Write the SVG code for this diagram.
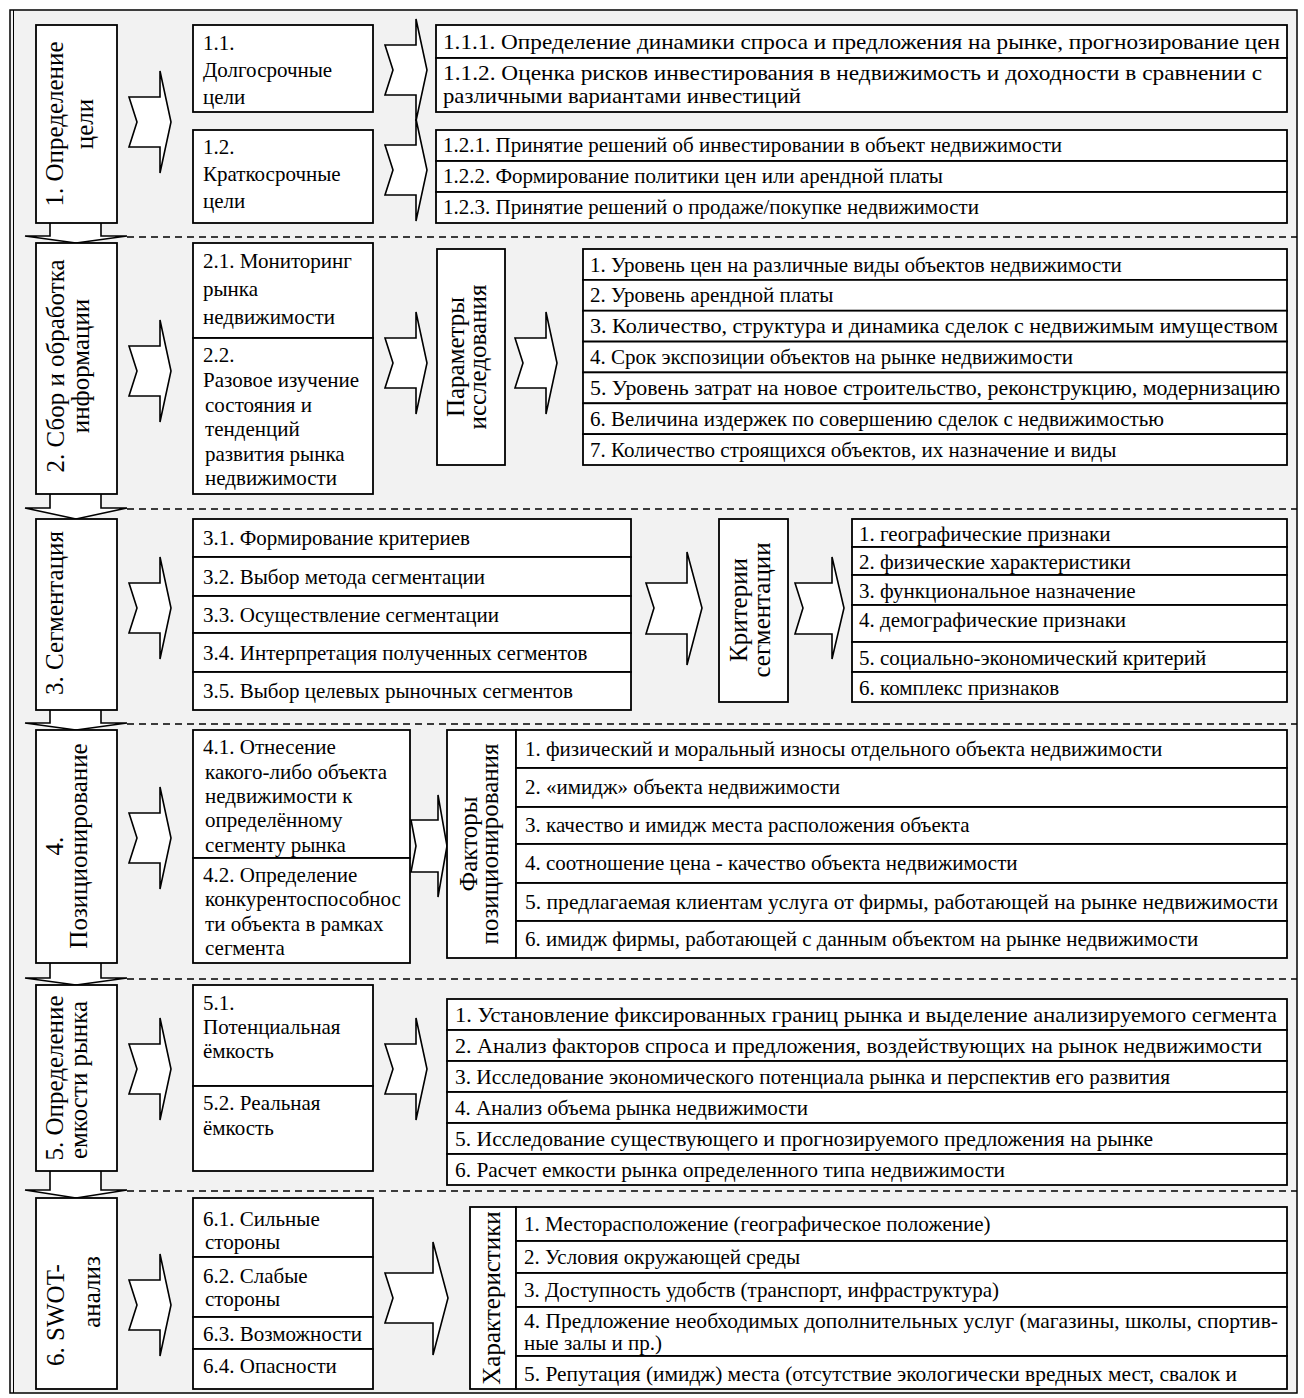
<svg xmlns="http://www.w3.org/2000/svg" width="1304" height="1398" viewBox="0 0 1304 1398">
<style>
.frame{fill:#f2f2f2;stroke:#000;stroke-width:1.5}
.box{fill:#fff;stroke:#000;stroke-width:1.8}
.arr{fill:#fff;stroke:#000;stroke-width:1.6;stroke-linejoin:miter}
.sep{fill:none;stroke:#000;stroke-width:1.5;stroke-dasharray:7 5}
text{font-family:"Liberation Serif","Times New Roman",serif;font-size:21px;fill:#000}
.v{font-size:25px;text-anchor:middle}
</style>
<rect x="0" y="0" width="1304" height="1398" fill="#fff"/>
<rect class="frame" x="10" y="10" width="1287" height="1383"/>
<line x1="13.5" y1="10" x2="13.5" y2="1393" stroke="#000" stroke-width="1"/>

<g id="separators">
<line class="sep" x1="127" y1="237" x2="1297" y2="237"/>
<line class="sep" x1="127" y1="509" x2="1297" y2="509"/>
<line class="sep" x1="127" y1="724" x2="1297" y2="724"/>
<line class="sep" x1="127" y1="979" x2="1297" y2="979"/>
<line class="sep" x1="127" y1="1191" x2="1297" y2="1191"/>
</g>

<g id="connectors">
<path class="arr" d="M50,223 V236 H25 L76,243 L127,236 H101 V223"/>
<path class="arr" d="M50,494 V508 H25 L76,519 L127,508 H101 V494"/>
<path class="arr" d="M50,710 V723 H25 L76,730 L127,723 H101 V710"/>
<path class="arr" d="M50,963 V978 H25 L76,985 L127,978 H101 V963"/>
<path class="arr" d="M50,1171 V1190 H25 L76,1198 L127,1190 H101 V1171"/>
<path class="arr" d="M129,97 H160 V71 L171,122 L160,173 V147 H129 L137,122 Z"/>
<path class="arr" d="M385,45 H416 V19 L427,70 L416,121 V95 H385 L393,70 Z"/>
<path class="arr" d="M385,145 H416 V119 L427,170 L416,221 V195 H385 L393,170 Z"/>
<path class="arr" d="M129,346 H160 V320 L171,371 L160,422 V396 H129 L137,371 Z"/>
<path class="arr" d="M385,338 H416 V312 L427,363 L416,414 V388 H385 L393,363 Z"/>
<path class="arr" d="M515,338 H546 V312 L557,363 L546,414 V388 H515 L523,363 Z"/>
<path class="arr" d="M129,583 H160 V557 L171,608 L160,659 V633 H129 L137,608 Z"/>
<path class="arr" d="M646,583 H687 V552 L702,608 L687,665 V634 H646 L654,608 Z"/>
<path class="arr" d="M795,583 H832 V557 L844,608 L832,659 V634 H795 L803,608 Z"/>
<path class="arr" d="M129,813 H160 V787 L171,838 L160,889 V863 H129 L137,838 Z"/>
<path class="arr" d="M411,820 H438 V795 L447,846 L438,897 V872 H411 L416,846 Z"/>
<path class="arr" d="M129,1044 H160 V1018 L171,1069 L160,1120 V1094 H129 L137,1069 Z"/>
<path class="arr" d="M385,1044 H416 V1018 L427,1069 L416,1120 V1094 H385 L393,1069 Z"/>
<path class="arr" d="M129,1280 H160 V1254 L171,1305 L160,1356 V1330 H129 L137,1305 Z"/>
<path class="arr" d="M385,1273 H433 V1242 L448,1298 L433,1355 V1323 H385 L393,1298 Z"/>
</g>

<!-- Section 1 -->
<g id="s1">
<rect class="box" x="36" y="25" width="81" height="198"/>
<text class="v" transform="translate(63,124) rotate(-90)">1. Определение</text>
<text class="v" transform="translate(93,124) rotate(-90)">цели</text>
</g>
<g id="s1-1">
<rect class="box" x="193" y="25" width="180" height="87"/>
<text x="203" y="50">1.1.</text>
<text x="203" y="77">Долгосрочные</text>
<text x="203" y="104">цели</text>
</g>
<g id="s1-2">
<rect class="box" x="193" y="130" width="180" height="93"/>
<text x="203" y="154">1.2.</text>
<text x="203" y="181">Краткосрочные</text>
<text x="203" y="208">цели</text>
</g>
<g id="s1-1-list">
<rect class="box" x="436" y="25" width="851" height="33"/>
<rect class="box" x="436" y="58" width="851" height="54"/>
<text x="443" y="49" textLength="837" lengthAdjust="spacingAndGlyphs">1.1.1. Определение динамики спроса и предложения на рынке, прогнозирование цен</text>
<text x="443" y="80" textLength="819" lengthAdjust="spacingAndGlyphs">1.1.2. Оценка рисков инвестирования в недвижимость и доходности в сравнении с</text>
<text x="443" y="103" textLength="358" lengthAdjust="spacingAndGlyphs">различными вариантами инвестиций</text>
</g>
<g id="s1-2-list">
<rect class="box" x="436" y="130" width="851" height="31"/>
<rect class="box" x="436" y="161" width="851" height="31"/>
<rect class="box" x="436" y="192" width="851" height="31"/>
<text x="443" y="152">1.2.1. Принятие решений об инвестировании в объект недвижимости</text>
<text x="443" y="183">1.2.2. Формирование политики цен или арендной платы</text>
<text x="443" y="214">1.2.3. Принятие решений о продаже/покупке недвижимости</text>
</g>

<!-- Section 2 -->
<g id="s2">
<rect class="box" x="36" y="243" width="81" height="251"/>
<text class="v" transform="translate(64,366) rotate(-90)">2. Сбор и обработка</text>
<text class="v" transform="translate(89,366) rotate(-90)">информации</text>
</g>
<g id="s2-1">
<rect class="box" x="193" y="243" width="180" height="95"/>
<text x="203" y="268">2.1. Мониторинг</text>
<text x="203" y="296">рынка</text>
<text x="203" y="324">недвижимости</text>
</g>
<g id="s2-2">
<rect class="box" x="193" y="338" width="180" height="156"/>
<text x="203" y="362">2.2.</text>
<text x="203" y="387">Разовое изучение</text>
<text x="205" y="412">состояния и</text>
<text x="205" y="436">тенденций</text>
<text x="205" y="461">развития рынка</text>
<text x="205" y="485">недвижимости</text>
</g>
<g id="s2-params">
<rect class="box" x="437" y="249" width="68" height="216"/>
<text class="v" transform="translate(464,357) rotate(-90)">Параметры</text>
<text class="v" transform="translate(486,357) rotate(-90)">исследования</text>
</g>
<g id="s2-list">
<rect class="box" x="583" y="249" width="704" height="30.9"/>
<rect class="box" x="583" y="279.9" width="704" height="30.9"/>
<rect class="box" x="583" y="310.7" width="704" height="30.9"/>
<rect class="box" x="583" y="341.6" width="704" height="30.9"/>
<rect class="box" x="583" y="372.4" width="704" height="30.9"/>
<rect class="box" x="583" y="403.3" width="704" height="30.9"/>
<rect class="box" x="583" y="434.1" width="704" height="30.9"/>
<text x="590" y="272">1. Уровень цен на различные виды объектов недвижимости</text>
<text x="590" y="302">2. Уровень арендной платы</text>
<text x="590" y="333" textLength="688" lengthAdjust="spacingAndGlyphs">3. Количество, структура и динамика сделок с недвижимым имуществом</text>
<text x="590" y="364">4. Срок экспозиции объектов на рынке недвижимости</text>
<text x="590" y="395" textLength="690" lengthAdjust="spacingAndGlyphs">5. Уровень затрат на новое строительство, реконструкцию, модернизацию</text>
<text x="590" y="426">6. Величина издержек по совершению сделок с недвижимостью</text>
<text x="590" y="457">7. Количество строящихся объектов, их назначение и виды</text>
</g>

<!-- Section 3 -->
<g id="s3">
<rect class="box" x="36" y="519" width="81" height="191"/>
<text class="v" transform="translate(63,613) rotate(-90)">3. Сегментация</text>
</g>
<g id="s3-steps">
<rect class="box" x="193" y="519" width="438" height="38"/>
<rect class="box" x="193" y="557" width="438" height="39"/>
<rect class="box" x="193" y="596" width="438" height="37"/>
<rect class="box" x="193" y="633" width="438" height="39"/>
<rect class="box" x="193" y="672" width="438" height="38"/>
<text x="203" y="545">3.1. Формирование критериев</text>
<text x="203" y="584">3.2. Выбор метода сегментации</text>
<text x="203" y="622">3.3. Осуществление сегментации</text>
<text x="203" y="660">3.4. Интерпретация полученных сегментов</text>
<text x="203" y="698">3.5. Выбор целевых рыночных сегментов</text>
</g>
<g id="s3-criteria">
<rect class="box" x="719" y="519" width="69" height="183"/>
<text class="v" transform="translate(747,610) rotate(-90)">Критерии</text>
<text class="v" transform="translate(770,610) rotate(-90)">сегментации</text>
</g>
<g id="s3-list">
<rect class="box" x="852" y="519" width="435" height="28"/>
<rect class="box" x="852" y="547" width="435" height="28"/>
<rect class="box" x="852" y="575" width="435" height="30"/>
<rect class="box" x="852" y="605" width="435" height="37"/>
<rect class="box" x="852" y="642" width="435" height="30"/>
<rect class="box" x="852" y="672" width="435" height="30"/>
<text x="859" y="541">1. географические признаки</text>
<text x="859" y="569">2. физические характеристики</text>
<text x="859" y="598">3. функциональное назначение</text>
<text x="859" y="627">4. демографические признаки</text>
<text x="859" y="665">5. социально-экономический критерий</text>
<text x="859" y="695">6. комплекс признаков</text>
</g>

<!-- Section 4 -->
<g id="s4">
<rect class="box" x="36" y="730" width="81" height="233"/>
<text class="v" transform="translate(63,846) rotate(-90)">4.</text>
<text class="v" transform="translate(87,846) rotate(-90)">Позиционирование</text>
</g>
<g id="s4-1">
<rect class="box" x="193" y="730" width="217" height="128"/>
<text x="203" y="754">4.1. Отнесение</text>
<text x="205" y="779">какого-либо объекта</text>
<text x="205" y="803">недвижимости к</text>
<text x="205" y="827">определённому</text>
<text x="205" y="852">сегменту рынка</text>
</g>
<g id="s4-2">
<rect class="box" x="193" y="858" width="217" height="105"/>
<text x="203" y="882">4.2. Определение</text>
<text x="205" y="906">конкурентоспособнос</text>
<text x="205" y="931">ти объекта в рамках</text>
<text x="205" y="955">сегмента</text>
</g>
<g id="s4-factors">
<rect class="box" x="447" y="730" width="69" height="228"/>
<text class="v" transform="translate(477,844) rotate(-90)">Факторы</text>
<text class="v" transform="translate(498,844) rotate(-90)">позиционирования</text>
</g>
<g id="s4-list">
<rect class="box" x="516" y="730" width="771" height="38"/>
<rect class="box" x="516" y="768" width="771" height="39"/>
<rect class="box" x="516" y="807" width="771" height="37"/>
<rect class="box" x="516" y="844" width="771" height="39"/>
<rect class="box" x="516" y="883" width="771" height="38"/>
<rect class="box" x="516" y="921" width="771" height="37"/>
<text x="525" y="756">1. физический и моральный износы отдельного объекта недвижимости</text>
<text x="525" y="794">2. «имидж» объекта недвижимости</text>
<text x="525" y="832">3. качество и имидж места расположения объекта</text>
<text x="525" y="870">4. соотношение цена - качество объекта недвижимости</text>
<text x="525" y="909" textLength="753" lengthAdjust="spacingAndGlyphs">5. предлагаемая клиентам услуга от фирмы, работающей на рынке недвижимости</text>
<text x="525" y="946">6. имидж фирмы, работающей с данным объектом на рынке недвижимости</text>
</g>

<!-- Section 5 -->
<g id="s5">
<rect class="box" x="36" y="985" width="81" height="186"/>
<text class="v" transform="translate(63,1078) rotate(-90)">5. Определение</text>
<text class="v" transform="translate(87,1080) rotate(-90)">емкости рынка</text>
</g>
<g id="s5-1">
<rect class="box" x="193" y="985" width="180" height="101"/>
<text x="203" y="1010">5.1.</text>
<text x="203" y="1034">Потенциальная</text>
<text x="203" y="1058">ёмкость</text>
</g>
<g id="s5-2">
<rect class="box" x="193" y="1086" width="180" height="85"/>
<text x="203" y="1110">5.2. Реальная</text>
<text x="203" y="1135">ёмкость</text>
</g>
<g id="s5-list">
<rect class="box" x="447" y="999" width="840" height="31"/>
<rect class="box" x="447" y="1030" width="840" height="31"/>
<rect class="box" x="447" y="1061" width="840" height="31"/>
<rect class="box" x="447" y="1092" width="840" height="31"/>
<rect class="box" x="447" y="1123" width="840" height="31"/>
<rect class="box" x="447" y="1154" width="840" height="31"/>
<text x="455" y="1022" textLength="822" lengthAdjust="spacingAndGlyphs">1. Установление фиксированных границ рынка и выделение анализируемого сегмента</text>
<text x="455" y="1053" textLength="807" lengthAdjust="spacingAndGlyphs">2. Анализ факторов спроса и предложения, воздействующих на рынок недвижимости</text>
<text x="455" y="1084" textLength="715" lengthAdjust="spacingAndGlyphs">3. Исследование экономического потенциала рынка и перспектив его развития</text>
<text x="455" y="1115">4. Анализ объема рынка недвижимости</text>
<text x="455" y="1146" textLength="698" lengthAdjust="spacingAndGlyphs">5. Исследование существующего и прогнозируемого предложения на рынке</text>
<text x="455" y="1177" textLength="550" lengthAdjust="spacingAndGlyphs">6. Расчет емкости рынка определенного типа недвижимости</text>
</g>

<!-- Section 6 -->
<g id="s6">
<rect class="box" x="36" y="1198" width="81" height="191"/>
<text class="v" transform="translate(64,1315) rotate(-90)">6. SWOT-</text>
<text class="v" transform="translate(100,1292) rotate(-90)">анализ</text>
</g>
<g id="s6-swot">
<rect class="box" x="193" y="1198" width="180" height="59"/>
<rect class="box" x="193" y="1257" width="180" height="60"/>
<rect class="box" x="193" y="1317" width="180" height="32"/>
<rect class="box" x="193" y="1349" width="180" height="40"/>
<text x="203" y="1226">6.1. Сильные</text>
<text x="205" y="1249">стороны</text>
<text x="203" y="1283">6.2. Слабые</text>
<text x="205" y="1306">стороны</text>
<text x="203" y="1341">6.3. Возможности</text>
<text x="203" y="1373">6.4. Опасности</text>
</g>
<g id="s6-char">
<rect class="box" x="470" y="1207" width="46" height="182"/>
<text class="v" transform="translate(500,1298) rotate(-90)">Характеристики</text>
</g>
<g id="s6-list">
<rect class="box" x="516" y="1207" width="771" height="34"/>
<rect class="box" x="516" y="1241" width="771" height="32"/>
<rect class="box" x="516" y="1273" width="771" height="34"/>
<rect class="box" x="516" y="1307" width="771" height="49"/>
<rect class="box" x="516" y="1356" width="771" height="33"/>
<text x="524" y="1231">1. Месторасположение (географическое положение)</text>
<text x="524" y="1264">2. Условия окружающей среды</text>
<text x="524" y="1297">3. Доступность удобств (транспорт, инфраструктура)</text>
<text x="524" y="1328" textLength="754" lengthAdjust="spacingAndGlyphs">4. Предложение необходимых дополнительных услуг (магазины, школы, спортив-</text>
<text x="524" y="1350">ные залы и пр.)</text>
<text x="524" y="1381" textLength="713" lengthAdjust="spacingAndGlyphs">5. Репутация (имидж) места (отсутствие экологически вредных мест, свалок и</text>
</g>
</svg>
